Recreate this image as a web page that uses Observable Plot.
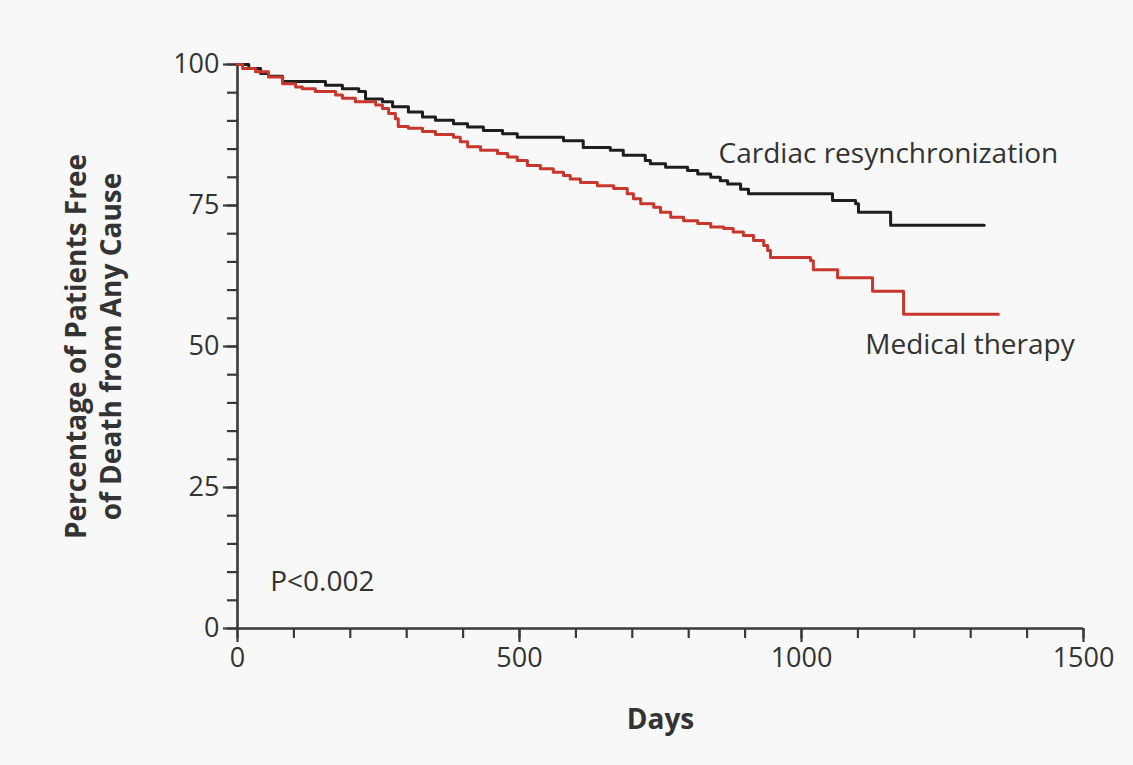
<!DOCTYPE html>
<html>
<head>
<meta charset="utf-8">
<script src="https://cdn.jsdelivr.net/npm/d3@7"></script>
<script src="https://cdn.jsdelivr.net/npm/@observablehq/plot@0.6"></script>
<style>
  html, body { margin: 0; padding: 0; background: #f8f8f8; }
  #chart { width: 1133px; height: 765px; }
</style>
</head>
<body>
<div id="chart"></div>
<script>
// Kaplan-Meier step values (day, % free of death)
const crtDays = [0, 20, 41, 55, 80, 156, 186, 215, 227, 257, 275, 303, 328, 351, 383, 408, 436, 470, 496, 578, 613, 661, 684, 723, 732, 759, 798, 816, 839, 856, 869, 892, 906, 1055, 1096, 1101, 1158, 1324];
const crtPct  = [100, 99.3, 98.4, 97.9, 97.0, 96.3, 95.7, 95.2, 93.9, 93.4, 92.5, 91.6, 90.7, 90.1, 89.5, 88.9, 88.3, 87.7, 87.1, 86.5, 85.3, 84.8, 83.9, 83.0, 82.4, 81.8, 81.2, 80.6, 80.0, 79.4, 78.8, 77.9, 77.1, 75.9, 75.3, 73.8, 71.5, 71.5];

const medDays = [0, 9, 32, 55, 80, 103, 115, 138, 174, 186, 209, 245, 257, 268, 280, 285, 303, 328, 351, 383, 395, 408, 431, 461, 479, 496, 514, 537, 560, 578, 590, 608, 638, 667, 691, 702, 715, 738, 750, 768, 791, 816, 839, 862, 879, 897, 915, 933, 940, 945, 1016, 1021, 1064, 1126, 1181, 1349];
const medPct  = [100, 99.3, 98.7, 97.8, 96.6, 96.0, 95.7, 95.2, 94.6, 94.0, 93.4, 92.8, 92.2, 91.3, 90.4, 89.0, 88.7, 88.1, 87.6, 87.1, 86.3, 85.4, 84.8, 84.2, 83.6, 83.0, 82.1, 81.5, 80.9, 80.3, 79.7, 79.1, 78.5, 78.0, 77.1, 76.2, 75.3, 74.7, 73.8, 72.9, 72.3, 71.8, 71.2, 70.9, 70.3, 69.7, 68.8, 67.9, 67.0, 65.8, 65.2, 63.6, 62.2, 59.8, 55.7, 55.7];

const seriesNames = ["Cardiac resynchronization", "Medical therapy"];
const seriesColors = ["#1e1e1e", "#c8372d"];

const xMinorTicks = d3.range(0, 1501, 100);
const xMajorTicks = [0, 500, 1000, 1500];
const yMinorTicks = d3.range(0, 101, 5);
const yMajorTicks = [0, 25, 50, 75, 100];

const xTitle = "Days";
const yTitle = "Percentage of Patients Free\nof Death from Any Cause";

const labelTexts = ["Cardiac resynchronization", "Medical therapy", "P<0.002"];
const labelDays = [853, 1113, 58];
const labelPcts = [84.2, 50.2, 8.3];

const rows = [
  ...crtDays.map((d, i) => ({day: d, pct: crtPct[i], group: seriesNames[0]})),
  ...medDays.map((d, i) => ({day: d, pct: medPct[i], group: seriesNames[1]}))
];
const labels = labelTexts.map((t, i) => ({text: t, day: labelDays[i], pct: labelPcts[i]}));

const font = "'Open Sans', 'Noto Sans', sans-serif";
const ink = "#333333";
const axisInk = "#3a3a3a";

const chart = Plot.plot({
  width: 1133,
  height: 765,
  marginLeft: 237,
  marginRight: 50,
  marginTop: 64,
  marginBottom: 137,
  style: {background: "#f8f8f8", fontFamily: font, fontSize: "27px", color: ink},
  x: {domain: [0, 1500]},
  y: {domain: [0, 100]},
  color: {domain: seriesNames, range: seriesColors},
  marks: [
    Plot.axisX({ticks: xMinorTicks, tickSize: 10, tickFormat: () => "", strokeWidth: 2.2, stroke: axisInk, label: null}),
    Plot.axisX({ticks: xMajorTicks, tickSize: 14, tickPadding: 5, strokeWidth: 2.2, stroke: axisInk,
      tickFormat: d => String(d), label: null}),
    Plot.axisY({ticks: yMinorTicks, tickSize: 10, tickFormat: () => "", strokeWidth: 2.2, stroke: axisInk, label: null}),
    Plot.axisY({ticks: yMajorTicks, tickSize: 14, tickPadding: 4, strokeWidth: 2.2, stroke: axisInk,
      tickFormat: d => String(d), label: null}),
    Plot.ruleY([0], {x1: 0, x2: 1500, stroke: axisInk, strokeWidth: 2.6}),
    Plot.ruleX([0], {y1: 0, y2: 100, stroke: axisInk, strokeWidth: 2.6}),
    Plot.line(rows, {x: "day", y: "pct", z: "group", stroke: "group", curve: "step-after", strokeWidth: 3}),
    Plot.text(labels, {x: "day", y: "pct", text: "text", textAnchor: "start", fill: ink, fontSize: 28}),
    Plot.text([xTitle], {
      frameAnchor: "bottom", dy: 92, textAnchor: "middle", lineAnchor: "middle",
      fontWeight: "bold", fontSize: 28, fill: ink
    }),
    Plot.text([yTitle], {
      frameAnchor: "left", dx: -145, rotate: -90, textAnchor: "middle", lineAnchor: "middle",
      fontWeight: "bold", fontSize: 28, fill: ink, lineHeight: 1.25
    })
  ]
});

document.getElementById("chart").appendChild(chart);
</script>
</body>
</html>
